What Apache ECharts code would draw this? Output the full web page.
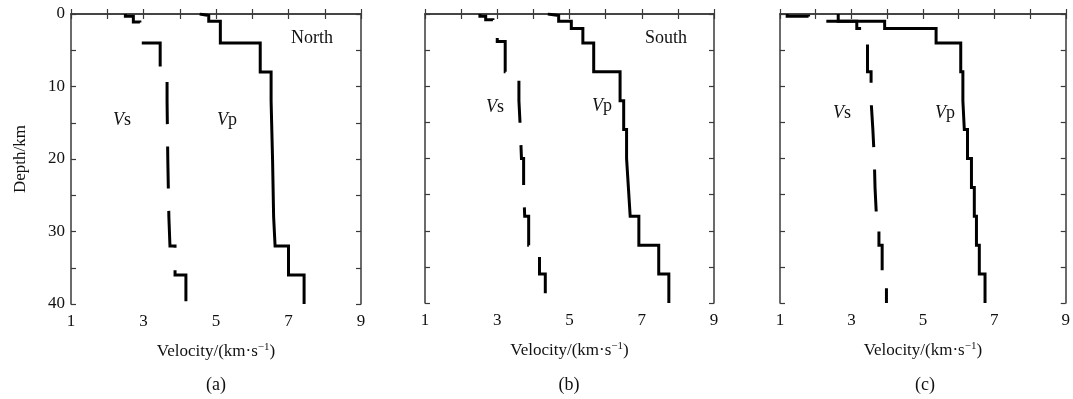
<!DOCTYPE html>
<html>
<head>
<meta charset="utf-8">
<script src="https://cdn.jsdelivr.net/npm/echarts@6/dist/echarts.min.js"></script>
<style>
  html, body { margin: 0; background: #fff; }
  #chart { width: 1073px; height: 399px; }
</style>
</head>
<body>
<div id="chart"></div>
<script>
const panelNames = ['(a)', '(b)', '(c)'];
const regionNames = ['North', 'South', ''];
const velocityTickLabels = [1, 3, 5, 7, 9];
const depthTickLabels = [0, 10, 20, 30, 40];
const maxDepth = 40;

// layer top depth (km) and velocity (km/s) for each profile, bottom is maxDepth
const depthVpA = [0, 0.2, 1, 4, 8, 12, 20, 28, 32, 36];
const vpA = [4.55, 4.8, 5.12, 6.22, 6.52, 6.56, 6.59, 6.63, 7.0, 7.43];
const depthVsA = [0, 0.3, 1.1, 4, 8, 12, 20, 28, 32, 36];
const vsA = [2.5, 2.72, 2.9, 3.46, 3.65, 3.67, 3.7, 3.73, 3.87, 4.17];

const depthVpB = [0, 0.2, 1, 2, 4, 8, 12, 16, 20, 24, 28, 32, 36];
const vpB = [4.4, 4.7, 5.05, 5.37, 5.67, 6.4, 6.5, 6.58, 6.63, 6.68, 6.92, 7.47, 7.75];
const depthVsB = [0, 0.3, 0.8, 3.3, 3.8, 8, 12, 16, 20, 24, 28, 32, 36];
const vsB = [2.52, 2.68, 2.88, 3.0, 3.22, 3.6, 3.64, 3.67, 3.73, 3.76, 3.87, 4.17, 4.33];

const depthVpC = [0, 1, 2, 4, 8, 12, 16, 20, 24, 28, 32, 36];
const vpC = [2.63, 3.93, 5.37, 6.06, 6.12, 6.16, 6.25, 6.36, 6.44, 6.5, 6.58, 6.74];
const depthVsC = [0, 0.3, 1, 2, 8, 12, 16, 20, 24, 28, 32, 36];
const vsC = [1.2, 1.8, 3.15, 3.45, 3.55, 3.6, 3.64, 3.66, 3.7, 3.77, 3.86, 3.98];

function stairs(depths, vel) {
  const pts = [];
  depths.forEach((d, i) => {
    const next = i < depths.length - 1 ? depths[i + 1] : maxDepth;
    pts.push([vel[i], d], [vel[i], next]);
  });
  return pts;
}

const profiles = [
  { vp: stairs(depthVpA, vpA), vs: stairs(depthVsA, vsA), dashOffset: 19 },
  { vp: stairs(depthVpB, vpB), vs: stairs(depthVsB, vsB), dashOffset: 23 },
  { vp: stairs(depthVpC, vpC), vs: stairs(depthVsC, vsC), dashOffset: 18 }
];

const FONT = 'Liberation Serif';
const frame = { lineStyle: { color: '#3a3a3a', width: 1.5 } };
const tickIn = { inside: true, length: 5, lineStyle: { color: '#3a3a3a', width: 1.2 } };

const grids = [
  { left: 71, top: 14, width: 290, height: 290 },
  { left: 425, top: 14, width: 289, height: 289 },
  { left: 780, top: 14, width: 290, height: 289 }
];

const xAxes = [], yAxes = [], series = [];
grids.forEach((g, i) => {
  const xBase = { type: 'value', gridIndex: i, min: 1, max: 9, interval: 1,
    axisLine: frame, axisTick: tickIn, splitLine: { show: false } };
  xAxes.push(Object.assign({}, xBase, {
    position: 'bottom',
    name: 'Velocity/(km·s{sup|−1})',
    nameLocation: 'middle',
    nameGap: 38,
    nameTextStyle: { fontFamily: FONT, fontSize: 17, color: '#111',
      rich: { sup: { fontFamily: FONT, fontSize: 11, color: '#111', padding: [0, 0, 9, 0] } } },
    axisLabel: { margin: 9, fontFamily: FONT, fontSize: 17, color: '#111',
      formatter: v => velocityTickLabels.includes(v) ? String(v) : '' }
  }));
  xAxes.push(Object.assign({}, xBase, { position: 'top', axisLabel: { show: false } }));

  const yBase = { type: 'value', gridIndex: i, min: 0, max: maxDepth, interval: 5, inverse: true,
    axisLine: frame, axisTick: tickIn, splitLine: { show: false } };
  yAxes.push(Object.assign({}, yBase, {
    position: 'left',
    name: i === 0 ? 'Depth/km' : '',
    nameLocation: 'middle',
    nameGap: 42,
    nameTextStyle: { fontFamily: FONT, fontSize: 17, color: '#111' },
    axisLabel: { show: i === 0, margin: 6, fontFamily: FONT, fontSize: 17, color: '#111',
      formatter: v => depthTickLabels.includes(v) ? String(v) : '' }
  }));
  yAxes.push(Object.assign({}, yBase, { position: 'right', axisLabel: { show: false } }));

  const p = profiles[i];
  series.push({
    name: 'Vp', type: 'line', xAxisIndex: 2 * i, yAxisIndex: 2 * i,
    data: p.vp, symbol: 'none', animation: false,
    lineStyle: { color: '#000', width: 3, cap: 'butt', join: 'miter' }
  });
  series.push({
    name: 'Vs', type: 'line', xAxisIndex: 2 * i, yAxisIndex: 2 * i,
    data: p.vs, symbol: 'none', animation: false,
    lineStyle: { color: '#000', width: 3, cap: 'butt', join: 'miter',
      type: [42, 22.4], dashOffset: p.dashOffset }
  });
});

function label(x, y, text) {
  return {
    type: 'text', x: x, y: y,
    style: {
      text: text, fontFamily: FONT, fontSize: 18, fill: '#111',
      align: 'center', verticalAlign: 'middle',
      rich: { i: { fontFamily: FONT, fontSize: 18, fontStyle: 'italic', color: '#111' } }
    }
  };
}

const labelPos = [
  { vs: [122, 120], vp: [227, 120], region: [312, 38], panel: [216, 385] },
  { vs: [495, 107], vp: [602, 106], region: [666, 38], panel: [569, 385] },
  { vs: [842, 113], vp: [945, 113], region: [0, 0], panel: [925, 385] }
];

const graphics = [];
labelPos.forEach((lp, i) => {
  graphics.push(label(lp.vs[0], lp.vs[1], '{i|V}s'));
  graphics.push(label(lp.vp[0], lp.vp[1], '{i|V}p'));
  graphics.push(label(lp.panel[0], lp.panel[1], panelNames[i]));
  if (regionNames[i]) graphics.push(label(lp.region[0], lp.region[1], regionNames[i]));
});

const chart = echarts.init(document.getElementById('chart'));
chart.setOption({
  animation: false,
  backgroundColor: '#fff',
  grid: grids,
  xAxis: xAxes,
  yAxis: yAxes,
  series: series,
  graphic: graphics
});
</script>
</body>
</html>
